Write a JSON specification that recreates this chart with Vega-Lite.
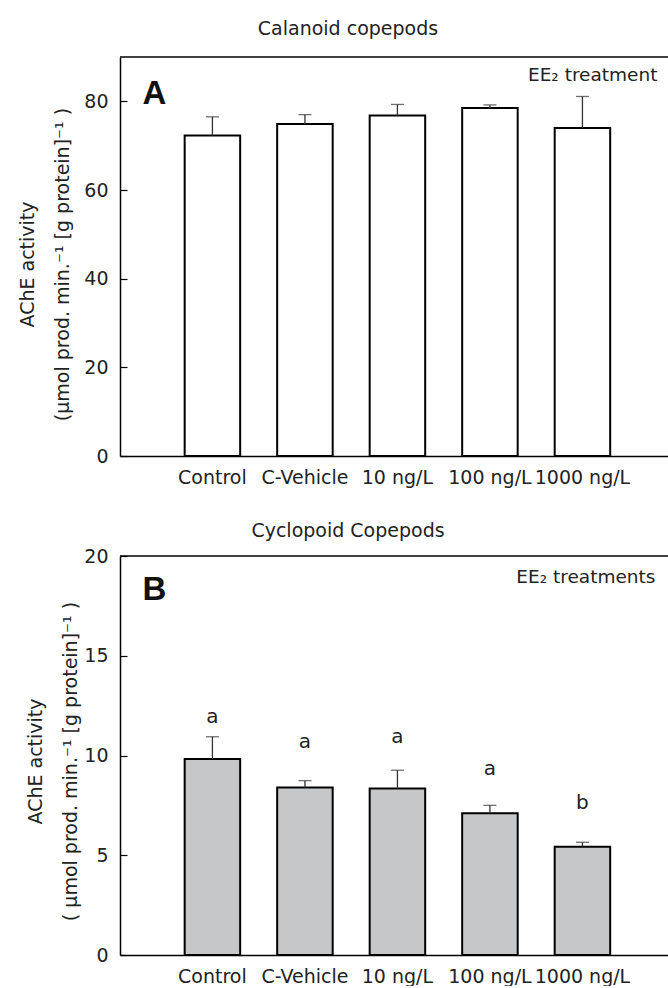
{
  "$schema": "https://vega.github.io/schema/vega-lite/v6.json",
  "padding": {"top": 20, "left": 0, "right": 0, "bottom": 0},
  "background": "white",
  "spacing": 35,
  "datasets": {
    "bars": [
      {"panel": "A", "group": "Control", "mean": 72.3, "upper": 76.5},
      {"panel": "A", "group": "C-Vehicle", "mean": 74.9, "upper": 77.0},
      {"panel": "A", "group": "10 ng/L", "mean": 76.8, "upper": 79.3},
      {"panel": "A", "group": "100 ng/L", "mean": 78.5, "upper": 79.2},
      {"panel": "A", "group": "1000 ng/L", "mean": 74.0, "upper": 81.1},
      {"panel": "B", "group": "Control", "mean": 9.82, "upper": 10.94, "letter": "a", "letter_y": 11.94},
      {"panel": "B", "group": "C-Vehicle", "mean": 8.39, "upper": 8.74, "letter": "a", "letter_y": 10.66},
      {"panel": "B", "group": "10 ng/L", "mean": 8.35, "upper": 9.26, "letter": "a", "letter_y": 10.94},
      {"panel": "B", "group": "100 ng/L", "mean": 7.10, "upper": 7.50, "letter": "a", "letter_y": 9.34},
      {"panel": "B", "group": "1000 ng/L", "mean": 5.43, "upper": 5.65, "letter": "b", "letter_y": 7.63}
    ]
  },
  "config": {
    "view": {"stroke": null},
    "font": "DejaVu Sans",
    "axis": {
      "grid": false,
      "domainColor": "black",
      "domainWidth": 1.5,
      "tickColor": "black",
      "tickWidth": 1.2,
      "labelFont": "DejaVu Sans",
      "labelFontSize": 19,
      "labelColor": "#222",
      "titleFont": "DejaVu Sans",
      "titleFontSize": 19,
      "titleFontWeight": "normal",
      "titleColor": "#222"
    },
    "title": {"font": "DejaVu Sans", "fontSize": 19, "fontWeight": "normal", "color": "#222"}
  },
  "vconcat": [
    {
      "width": 548,
      "height": 399,
      "title": {"text": "Calanoid copepods", "anchor": "middle", "frame": "group", "dx": -46, "offset": 2, "baseline": "alphabetic"},
      "layer": [
        {
          "data": {"name": "bars"},
          "transform": [{"filter": "datum.panel === 'A'"}],
          "mark": {"type": "bar", "fill": "white", "stroke": "black", "strokeWidth": 2, "width": {"band": 1}},
          "encoding": {
            "x": {"field": "group", "type": "nominal",
              "scale": {"domain": ["Control", "C-Vehicle", "10 ng/L", "100 ng/L", "1000 ng/L"], "paddingInner": 0.4, "paddingOuter": 0.662, "align": 0.528},
              "axis": {"title": null, "ticks": false, "labelPadding": 12, "labelAngle": 0}},
            "y": {"field": "mean", "type": "quantitative", "scale": {"domain": [0, 90]},
              "axis": {"values": [0, 20, 40, 60, 80], "title": ["AChE activity", "(µmol prod. min.⁻¹ [g protein]⁻¹ )"],
                "titleX": -93, "titleY": 207, "titleBaseline": "middle", "titleAlign": "center", "titleAngle": -90, "titleLineHeight": 35,
                "tickSize": -7, "labelPadding": 19, "minExtent": 120, "maxExtent": 120}}
          }
        },
        {
          "data": {"name": "bars"},
          "transform": [{"filter": "datum.panel === 'A'"}],
          "mark": {"type": "rule", "color": "#333", "strokeWidth": 1.3},
          "encoding": {
            "x": {"field": "group", "type": "nominal"},
            "y": {"field": "mean", "type": "quantitative"},
            "y2": {"field": "upper"}
          }
        },
        {
          "data": {"name": "bars"},
          "transform": [{"filter": "datum.panel === 'A'"}],
          "mark": {"type": "tick", "color": "#333", "size": 13, "thickness": 1.3},
          "encoding": {
            "x": {"field": "group", "type": "nominal"},
            "y": {"field": "upper", "type": "quantitative"}
          }
        },
        {
          "data": {"values": [{"border": 90}]},
          "mark": {"type": "rule", "color": "black", "strokeWidth": 1.5},
          "encoding": {"y": {"field": "border", "type": "quantitative"}}
        },
        {
          "data": {"values": [{"label": "A", "group": "Control", "y": 79.3}]},
          "mark": {"type": "text", "font": "Liberation Sans", "fontWeight": "bold", "fontSize": 33, "align": "left", "baseline": "alphabetic", "dx": -70, "color": "#111"},
          "encoding": {"x": {"field": "group", "type": "nominal"}, "y": {"field": "y", "type": "quantitative"}, "text": {"field": "label"}}
        },
        {
          "data": {"values": [{"label": "EE₂ treatment", "group": "1000 ng/L", "y": 84.5}]},
          "mark": {"type": "text", "fontSize": 18.5, "align": "right", "baseline": "alphabetic", "dx": 75, "color": "#222"},
          "encoding": {"x": {"field": "group", "type": "nominal"}, "y": {"field": "y", "type": "quantitative"}, "text": {"field": "label"}}
        }
      ]
    },
    {
      "width": 548,
      "height": 399,
      "title": {"text": "Cyclopoid Copepods", "anchor": "middle", "frame": "group", "dx": -46, "offset": -9, "baseline": "alphabetic"},
      "layer": [
        {
          "data": {"name": "bars"},
          "transform": [{"filter": "datum.panel === 'B'"}],
          "mark": {"type": "bar", "fill": "#c6c7c9", "stroke": "black", "strokeWidth": 2, "width": {"band": 1}},
          "encoding": {
            "x": {"field": "group", "type": "nominal",
              "scale": {"domain": ["Control", "C-Vehicle", "10 ng/L", "100 ng/L", "1000 ng/L"], "paddingInner": 0.4, "paddingOuter": 0.662, "align": 0.528},
              "axis": {"title": null, "ticks": false, "labelPadding": 12, "labelAngle": 0}},
            "y": {"field": "mean", "type": "quantitative", "scale": {"domain": [0, 20]},
              "axis": {"values": [0, 5, 10, 15, 20], "title": ["AChE activity", "( µmol prod. min.⁻¹ [g protein]⁻¹ )"],
                "titleX": -85, "titleY": 205, "titleBaseline": "middle", "titleAlign": "center", "titleAngle": -90, "titleLineHeight": 35,
                "tickSize": -7, "labelPadding": 19, "minExtent": 120, "maxExtent": 120}}
          }
        },
        {
          "data": {"name": "bars"},
          "transform": [{"filter": "datum.panel === 'B'"}],
          "mark": {"type": "rule", "color": "#333", "strokeWidth": 1.3},
          "encoding": {
            "x": {"field": "group", "type": "nominal"},
            "y": {"field": "mean", "type": "quantitative"},
            "y2": {"field": "upper"}
          }
        },
        {
          "data": {"name": "bars"},
          "transform": [{"filter": "datum.panel === 'B'"}],
          "mark": {"type": "tick", "color": "#333", "size": 13, "thickness": 1.3},
          "encoding": {
            "x": {"field": "group", "type": "nominal"},
            "y": {"field": "upper", "type": "quantitative"}
          }
        },
        {
          "data": {"name": "bars"},
          "transform": [{"filter": "datum.panel === 'B'"}],
          "mark": {"type": "text", "fontSize": 20, "baseline": "middle", "color": "#222"},
          "encoding": {
            "x": {"field": "group", "type": "nominal"},
            "y": {"field": "letter_y", "type": "quantitative"},
            "text": {"field": "letter"}
          }
        },
        {
          "data": {"values": [{"border": 20}]},
          "mark": {"type": "rule", "color": "black", "strokeWidth": 1.5},
          "encoding": {"y": {"field": "border", "type": "quantitative"}}
        },
        {
          "data": {"values": [{"label": "B", "group": "Control", "y": 17.8}]},
          "mark": {"type": "text", "font": "Liberation Sans", "fontWeight": "bold", "fontSize": 33, "align": "left", "baseline": "alphabetic", "dx": -70, "color": "#111"},
          "encoding": {"x": {"field": "group", "type": "nominal"}, "y": {"field": "y", "type": "quantitative"}, "text": {"field": "label"}}
        },
        {
          "data": {"values": [{"label": "EE₂ treatments", "group": "1000 ng/L", "y": 18.66}]},
          "mark": {"type": "text", "fontSize": 18.5, "align": "right", "baseline": "alphabetic", "dx": 73, "color": "#222"},
          "encoding": {"x": {"field": "group", "type": "nominal"}, "y": {"field": "y", "type": "quantitative"}, "text": {"field": "label"}}
        }
      ]
    }
  ]
}
